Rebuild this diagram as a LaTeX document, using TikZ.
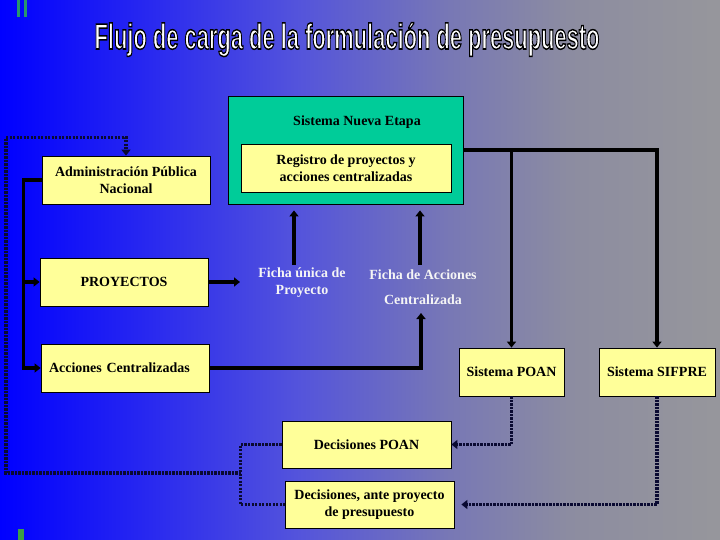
\documentclass[tikz,border=0pt]{standalone}
\usepackage{fontspec}
\setmainfont{Liberation Serif}
\newfontfamily\bodyfont{Liberation Serif}
\newfontfamily\ttlfont{Liberation Sans}
\usetikzlibrary{arrows.meta,calc}
\definecolor{tealbox}{RGB}{0,204,153}
\definecolor{ylw}{RGB}{255,255,153}
\definecolor{dotc}{RGB}{10,10,50}
\definecolor{grnbar}{RGB}{40,150,110}
\definecolor{grnbarb}{RGB}{60,160,70}
\definecolor{lbl}{RGB}{245,245,245}
\pgfdeclarehorizontalshading{bgshade}{100bp}{rgb(0bp)=(0,0,1); rgb(25bp)=(0,0,1); rgb(35.4bp)=(0.16,0.16,0.94); rgb(45.8bp)=(0.33,0.33,0.86); rgb(56.2bp)=(0.47,0.47,0.71); rgb(64.6bp)=(0.55,0.55,0.63); rgb(75bp)=(0.59,0.59,0.61); rgb(100bp)=(0.59,0.59,0.61)}
\newcommand\ttltext{\resizebox{505pt}{\height}{\ttlfont\bfseries\fontsize{36}{36}\selectfont Flujo de carga de la formulación de presupuesto}}
\begin{document}
\begin{tikzpicture}[x=1pt,y=-1pt,
  box/.style={draw=black, line width=0.8pt, fill=ylw, font=\bodyfont\bfseries\fontsize{14}{17}\selectfont, align=center, inner sep=0pt},
  lab/.style={text=lbl, font=\bodyfont\bfseries\fontsize{14}{17}\selectfont, align=center, inner sep=0pt},
  flow/.style={line width=3.5pt, black, -{Triangle[length=6pt,width=9pt]}},
  dots/.style={line width=3.5pt, dotc, dash pattern=on 2.2pt off 1.3pt, -{Triangle[length=6pt,width=9pt]}},
  dotsplain/.style={line width=3.5pt, dotc, dash pattern=on 2.2pt off 1.3pt},
  ttl/.style={inner sep=0pt, anchor=base}]
\useasboundingbox (0,0) rectangle (720,540);
\shade[shading=bgshade] (0,0) rectangle (720,540);
% green bars
\fill[grnbar] (17,0) rectangle (20,17);
\fill[grnbar] (24,0) rectangle (27,17);
\fill[grnbarb] (18,529) rectangle (24,540);
% title: white text stroked in black (PDF text rendering mode 2)
\node[ttl, text=white] (title) at (347,49) {\special{pdf:literal direct 0 0 0 RG 1.5 w 2 Tr}\ttltext\special{pdf:literal direct 0 Tr}};
% boxes
\node[draw=black, line width=0.8pt, fill=tealbox, minimum width=235pt, minimum height=108pt, inner sep=0pt] (nueva) at (345.5,150) {};
\node[inner sep=0pt, font=\bodyfont\bfseries\fontsize{14}{17}\selectfont] (nuevaT) at (357,122) {Sistema Nueva Etapa};
\node[box, minimum width=210pt, minimum height=48pt] (registro) at (346,168) {Registro de proyectos y\\acciones centralizadas};
\node[box, minimum width=168pt, minimum height=48pt] (admin) at (126,180) {Administración Pública\\Nacional};
\node[box, minimum width=168pt, minimum height=48pt] (proy) at (124,282) {PROYECTOS};
\node[box, text width=152pt, inner xsep=8pt, align=left, minimum height=48pt] (acc) at (125,368) {Acciones Centralizadas};
\node[box, minimum width=105pt, minimum height=48pt] (poan) at (511.5,372) {Sistema POAN};
\node[box, minimum width=116pt, minimum height=48pt] (sifpre) at (657,372) {Sistema SIFPRE};
\node[box, minimum width=169pt, minimum height=47pt] (dpoan) at (366.5,444.5) {Decisiones POAN};
\node[box, minimum width=169pt, minimum height=47pt] (dante) at (369.5,504.5) {Decisiones, ante proyecto\\de presupuesto};
% labels
\node[lab] (fichaU) at (302,282.5) {Ficha única de\\Proyecto};
\node[lab] (fichaA) at (423,287.5) {Ficha de Acciones\\[8pt]Centralizada};
% coordinates
\coordinate (pe) at (240,282);
\coordinate (fu) at (294,265);
\coordinate (fa) at (420,265);
\coordinate (fc) at (421,313);
\coordinate (d2) at (241,473);
% solid connectors
\draw[flow] (admin.west) -- ++(-18,0) coordinate (t1) |- (acc.west);
\draw[flow] (t1 |- proy.west) -- (proy.west);
\draw[flow] (proy.east) -- (pe);
\draw[flow, shorten >=6pt] (fu) -- (fu |- nueva.south);
\draw[flow, shorten >=6pt] (fa) -- (fa |- nueva.south);
\draw[flow] (acc.east) -| (fc);
\draw[flow] (nueva.east) -| (sifpre.north);
\draw[flow] (poan.north |- nueva.east) -- (poan.north);
% dotted connectors
\draw[dots] (poan.south) |- (dpoan.east);
\draw[dots, shorten >=7pt] (sifpre.south) |- (dante.east);
\draw[dotsplain] (dpoan.west) -- ++(-41,0) coordinate (d1) |- (dante.west);
\draw[dots] (d2) -- ++(-235,0) |- ([yshift=18pt]admin.north) -- (admin.north);
\end{tikzpicture}
\end{document}
